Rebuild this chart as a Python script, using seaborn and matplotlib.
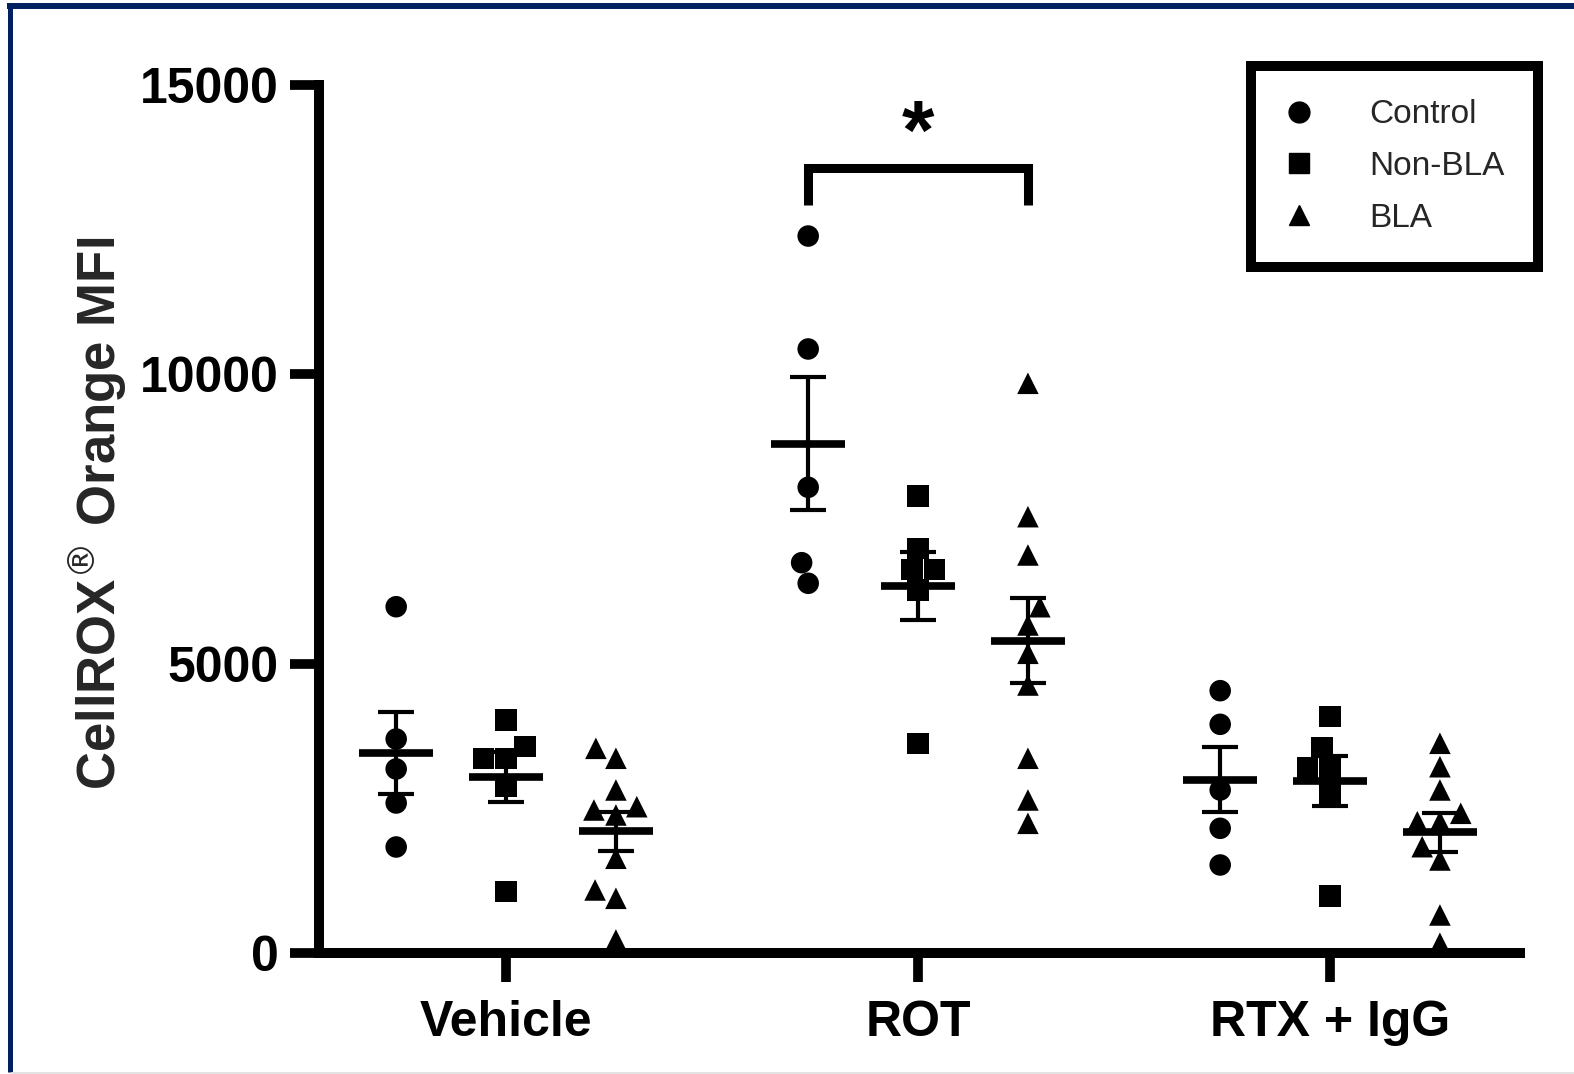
import warnings
import numpy as np
import pandas as pd
import matplotlib
matplotlib.use("Agg")
import matplotlib.pyplot as plt
from matplotlib.lines import Line2D
import seaborn as sns

warnings.filterwarnings("ignore")

# ---- data -------------------------------------------------------------
treatments = ["Vehicle", "ROT", "RTX + IgG"]
groups = ["Control", "Non-BLA", "BLA"]
markers = {"Control": "o", "Non-BLA": "s", "BLA": "^"}

vehicle_control = [5984, 3698, 3180, 2592, 1832]
vehicle_nonbla = [4026, 3565, 3365, 3365, 2874, 1059]
vehicle_bla = [3537, 3365, 2817, 2385, 2528, 2471, 1637, 1089, 945, 225]

rot_control = [12390, 10438, 8048, 6745, 6389]
rot_nonbla = [7897, 6994, 6631, 6631, 6273, 3624]
rot_bla = [9845, 7540, 6878, 5984, 5668, 5179, 4631, 3365, 2644, 2241]

rtx_control = [4533, 3952, 2817, 2155, 1521]
rtx_nonbla = [4084, 3555, 3209, 3209, 2760, 985]
rtx_bla = [3624, 3219, 2817, 2414, 2269, 2269, 1837, 1607, 657, 168]

y_ticks = [0, 5000, 10000, 15000]
ylabel = r"CellROX$^{\circledR}$ Orange MFI"

# significance bracket: ROT Control vs ROT BLA
sig_treatment = "ROT"
sig_pair = ("Control", "BLA")
sig_bar_y = 13560
sig_leg_y = 12930
sig_label = "*"

values = {
    ("Vehicle", "Control"): vehicle_control,
    ("Vehicle", "Non-BLA"): vehicle_nonbla,
    ("Vehicle", "BLA"): vehicle_bla,
    ("ROT", "Control"): rot_control,
    ("ROT", "Non-BLA"): rot_nonbla,
    ("ROT", "BLA"): rot_bla,
    ("RTX + IgG", "Control"): rtx_control,
    ("RTX + IgG", "Non-BLA"): rtx_nonbla,
    ("RTX + IgG", "BLA"): rtx_bla,
}

rows = []
for (t, g), vals in values.items():
    for v in vals:
        rows.append({"treatment": t, "group": g, "value": v})
df = pd.DataFrame(rows)

# ---- style ------------------------------------------------------------
sns.set_theme(style="ticks")
plt.rcParams["font.family"] = ["Liberation Sans", "DejaVu Sans"]
plt.rcParams["mathtext.fontset"] = "dejavusans"

W, H = 1574, 1074
fig = plt.figure(figsize=(W / 100, H / 100), dpi=100)
fig.patch.set_facecolor("white")

ax = fig.add_axes([319 / W, 1 - 953 / H, (1520 - 319) / W, 868 / H])
ax.set_facecolor("white")

# ---- individual points ------------------------------------------------
palette = {g: "black" for g in groups}
for g in groups:
    sns.swarmplot(
        data=df[df["group"] == g], x="treatment", y="value",
        hue="group", order=treatments, hue_order=groups, dodge=True,
        palette=palette, marker=markers[g], size=15.5, linewidth=0,
        legend=False, ax=ax, clip_on=False, zorder=3,
    )

# ---- mean and SEM -----------------------------------------------------
n_groups = len(groups)
dodge_w = 0.8 / n_groups
def cluster_x(t, g):
    return treatments.index(t) + (groups.index(g) - (n_groups - 1) / 2) * dodge_w

for (t, g), vals in values.items():
    arr = np.asarray(vals, dtype=float)
    m = arr.mean()
    se = arr.std(ddof=1) / np.sqrt(len(arr))
    x = cluster_x(t, g)
    ax.errorbar(x, m, yerr=se, fmt="none", ecolor="black", elinewidth=3,
                capsize=13, capthick=3, zorder=5, clip_on=False)
    ax.hlines(m, x - 0.09, x + 0.09, color="black", lw=5.5, zorder=6)

# ---- significance bracket --------------------------------------------
x1 = cluster_x(sig_treatment, sig_pair[0])
x2 = cluster_x(sig_treatment, sig_pair[1])
ax.plot([x1, x1, x2, x2], [sig_leg_y, sig_bar_y, sig_bar_y, sig_leg_y],
        color="black", lw=6.5, solid_capstyle="butt",
        solid_joinstyle="miter", clip_on=False, zorder=4)
ax.text((x1 + x2) / 2, sig_bar_y + 160, sig_label, ha="center",
        va="baseline", fontsize=60, fontweight="bold", color="black")

# ---- axes -------------------------------------------------------------
ax.set_xlim(-0.454, 2.461)
ax.set_ylim(0, 15000)
ax.set_yticks(y_ticks)
ax.set_yticklabels([str(v) for v in y_ticks])
ax.set_xlabel("")
ax.set_ylabel(ylabel, fontsize=38, fontweight="bold")
ax.yaxis.set_label_coords(-0.158, 0.507)

for side in ("top", "right"):
    ax.spines[side].set_visible(False)
for side in ("left", "bottom"):
    ax.spines[side].set_linewidth(7.2)
    ax.spines[side].set_color("black")

ax.tick_params(axis="both", which="major", length=21, width=7,
               color="black", labelsize=36, labelcolor="black")
ax.tick_params(axis="y", pad=8)
ax.tick_params(axis="x", pad=13)
for lab in ax.get_xticklabels() + ax.get_yticklabels():
    lab.set_fontweight("bold")

# ---- legend -----------------------------------------------------------
handles = [Line2D([], [], marker=markers[g], linestyle="none",
                  color="black", markersize=15) for g in groups]
leg = ax.legend(handles, groups, loc="upper right",
                bbox_to_anchor=(1538 / W, 1 - 66 / H),
                bbox_transform=fig.transFigure,
                frameon=True, fancybox=False, framealpha=1,
                edgecolor="black", fontsize=24, borderpad=1.0,
                labelspacing=0.62, handlelength=0.9, handletextpad=1.65,
                borderaxespad=0)
leg.get_frame().set_linewidth(7.2)

# ---- page frame -------------------------------------------------------
navy = "#002060"
fig.add_artist(Line2D([7 / W, 1], [1 - 6 / H, 1 - 6 / H],
                      transform=fig.transFigure, color=navy, lw=4.3,
                      solid_capstyle="butt"))
fig.add_artist(Line2D([9.5 / W, 9.5 / W], [1 - 3 / H, 2 / H],
                      transform=fig.transFigure, color=navy, lw=3.6,
                      solid_capstyle="butt"))
fig.add_artist(Line2D([12 / W, 1], [1.5 / H, 1.5 / H],
                      transform=fig.transFigure, color="#e3e3e3", lw=1.5))

fig.savefig("out.png", dpi=100, facecolor="white")
